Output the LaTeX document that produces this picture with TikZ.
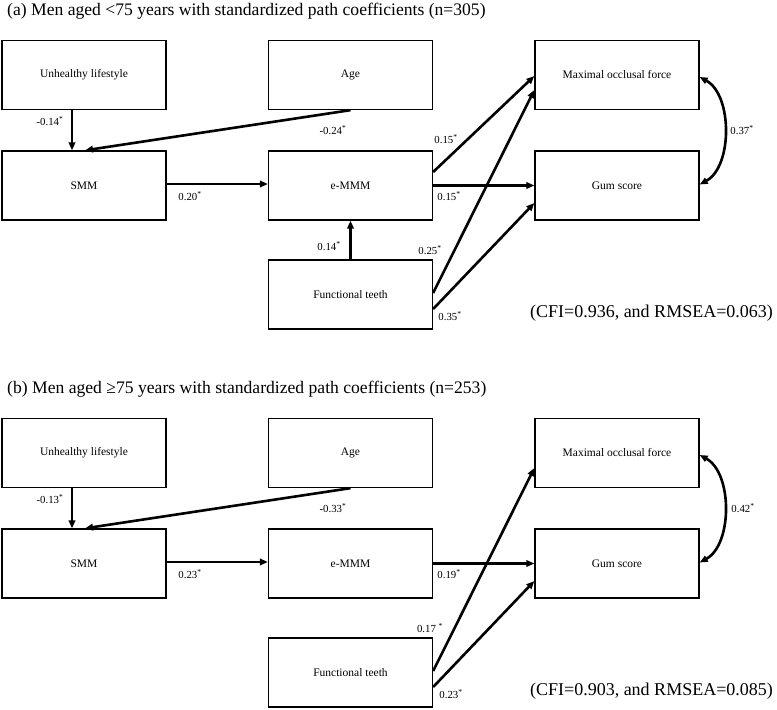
\documentclass[tikz,border=0pt]{standalone}
\usepackage{fontspec}
\setmainfont{Liberation Serif}
\usetikzlibrary{arrows.meta}
\begin{document}
\begin{tikzpicture}[x=1pt,y=-1pt,
  box/.style={draw, line width=1.3pt, minimum width=164pt, minimum height=69pt, inner sep=0pt, font=\fontsize{11.5}{13}\selectfont},
  arr/.style={line width=2.6pt, -{Triangle[length=8pt,width=6.5pt]}},
  dbl/.style={line width=2.6pt, {Triangle[length=8pt,width=6.5pt]}-{Triangle[length=8pt,width=6.5pt]}},
  coef/.style={inner sep=0pt, font=\fontsize{10.8}{12}\selectfont},
  ttl/.style={inner sep=0pt, anchor=west, font=\fontsize{17.6}{20}\selectfont},
  cfi/.style={inner sep=0pt, font=\fontsize{18}{20}\selectfont}]
\useasboundingbox (0,0) rectangle (777,710);
\fill[white] (0,0) rectangle (777,710);
\newcommand{\st}{\textsuperscript{*}}
% ---------------- Panel (a) ----------------
\node[ttl] (ta) at (7,11) {(a) Men aged <75 years with standardized path coefficients (n=305)};
\node[box] (ul) at (84,75) {Unhealthy lifestyle};
\node[box] (sm) at (84,185.5) {SMM};
\node[box] (ag) at (350.5,75) {Age};
\node[box] (em) at (350.5,185.5) {e-MMM};
\node[box] (ft) at (350.5,294.5) {Functional teeth};
\node[box] (mo) at (617,75) {Maximal occlusal force};
\node[box] (gs) at (617,185.5) {Gum score};

\draw[arr] ([xshift=-12pt]ul.south) -- ([xshift=-12pt]sm.north);
\draw[arr] (ag.south) -- ([xshift=1pt]sm.north);
\draw[arr] ([yshift=1.5pt]sm.east) -- ([yshift=1.5pt]em.west);
\draw[arr] (ft.north) -- (em.south);
\draw[arr] ([yshift=13.5pt]em.east) -- ([yshift=-1pt]mo.west);
\draw[arr] (em.east) -- (gs.west);
\draw[arr] ([yshift=1.5pt]ft.east) -- ([yshift=-15pt]mo.west);
\draw[arr] ([yshift=-14.5pt]ft.east) -- ([yshift=-17.5pt]gs.west);
\draw[dbl] ([yshift=-2pt]mo.east) .. controls ([xshift=33pt,yshift=-20pt]mo.east) and ([xshift=33pt,yshift=19pt]gs.east) .. ([yshift=1pt]gs.east);

\node[coef] (la1) at (50,121) {-0.14\st};
\node[coef] (la2) at (333,130) {-0.24\st};
\node[coef] (la3) at (190,196) {0.20\st};
\node[coef] (la4) at (446,139) {0.15\st};
\node[coef] (la5) at (449,196) {0.15\st};
\node[coef] (la6) at (329,246) {0.14\st};
\node[coef] (la7) at (430,250) {0.25\st};
\node[coef] (la8) at (450,316) {0.35\st};
\node[coef] (la9) at (742,130) {0.37\st};
\node[cfi] (fa) at (651.5,313) {(CFI=0.936, and RMSEA=0.063)};

% ---------------- Panel (b) ----------------
\node[ttl] (tb) at (7,389) {(b) Men aged ≥75 years with standardized path coefficients (n=253)};
\node[box] (bul) at (84,453) {Unhealthy lifestyle};
\node[box] (bsm) at (84,563.5) {SMM};
\node[box] (bag) at (350.5,453) {Age};
\node[box] (bem) at (350.5,563.5) {e-MMM};
\node[box] (bft) at (350.5,672.5) {Functional teeth};
\node[box] (bmo) at (617,453) {Maximal occlusal force};
\node[box] (bgs) at (617,563.5) {Gum score};

\draw[arr] ([xshift=-12pt]bul.south) -- ([xshift=-12pt]bsm.north);
\draw[arr] (bag.south) -- ([xshift=1pt]bsm.north);
\draw[arr] ([yshift=1.5pt]bsm.east) -- ([yshift=1.5pt]bem.west);
\draw[arr] (bem.east) -- (bgs.west);
\draw[arr] ([yshift=1.5pt]bft.east) -- ([yshift=-15pt]bmo.west);
\draw[arr] ([yshift=-14.5pt]bft.east) -- ([yshift=-17.5pt]bgs.west);
\draw[dbl] ([yshift=-2pt]bmo.east) .. controls ([xshift=33pt,yshift=-20pt]bmo.east) and ([xshift=33pt,yshift=19pt]bgs.east) .. ([yshift=1pt]bgs.east);

\node[coef] (lb1) at (50,499) {-0.13\st};
\node[coef] (lb2) at (333,508) {-0.33\st};
\node[coef] (lb3) at (190,574) {0.23\st};
\node[coef] (lb5) at (449,574) {0.19\st};
\node[coef] (lb7) at (430,628) {0.17 \st};
\node[coef] (lb8) at (451,694) {0.23\st};
\node[coef] (lb9) at (743,508) {0.42\st};
\node[cfi] (fb) at (651.5,691) {(CFI=0.903, and RMSEA=0.085)};
\end{tikzpicture}
\end{document}
